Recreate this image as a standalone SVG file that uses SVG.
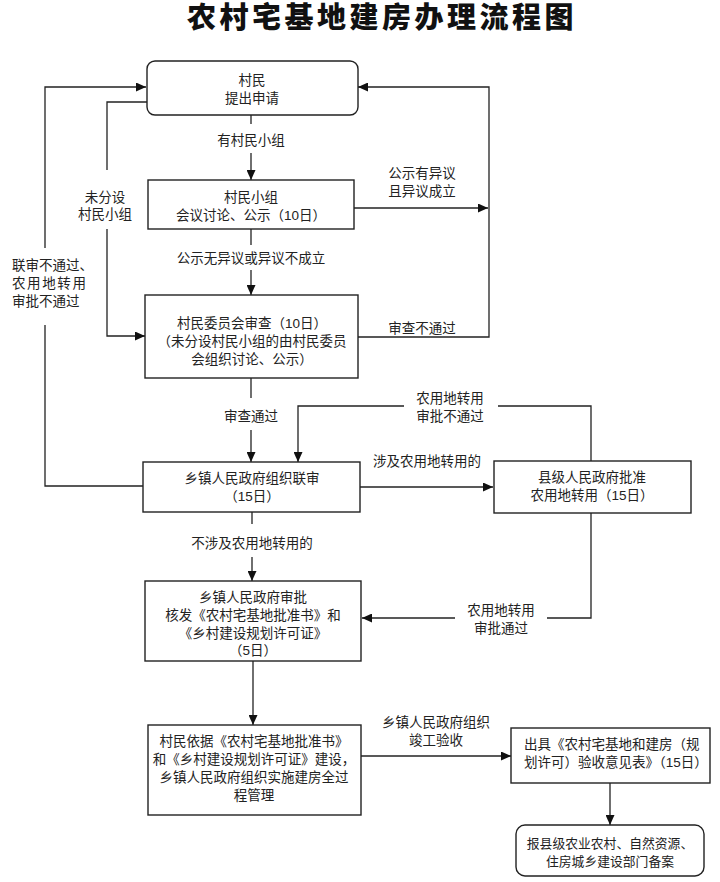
<svg xmlns="http://www.w3.org/2000/svg" width="720" height="882" viewBox="0 0 720 882">
<defs>
<marker id="arr" markerUnits="userSpaceOnUse" markerWidth="11" markerHeight="9" refX="10" refY="4.5" orient="auto">
<path d="M0,0 L10,4.5 L0,9 z" fill="#111"/>
</marker>
<style>
.bx{fill:#fff;stroke:#222;stroke-width:1.4}
.ln{fill:none;stroke:#222;stroke-width:1.3}
.t{font-family:"Liberation Sans","Noto Sans CJK SC",sans-serif;font-size:13.5px;fill:#222;text-anchor:middle}
.l{text-anchor:start}
.title{font-family:"Liberation Sans","Noto Sans CJK SC",sans-serif;font-size:29px;font-weight:900;fill:#111;text-anchor:middle;letter-spacing:3.5px}
</style>
</defs>
<rect width="720" height="882" fill="#fff"/>
<text class="title" x="382" y="28">农村宅基地建房办理流程图</text>

<g id="connectors">
<path class="ln" d="M251,115 V124"/>
<path class="ln" d="M251,153 V180" marker-end="url(#arr)"/>
<path class="ln" d="M251,229 V245"/>
<path class="ln" d="M251,270 V295" marker-end="url(#arr)"/>
<path class="ln" d="M251,378 V398"/>
<path class="ln" d="M251,430 V462" marker-end="url(#arr)"/>
<path class="ln" d="M252,512 V524"/>
<path class="ln" d="M252,557 V581" marker-end="url(#arr)"/>
<path class="ln" d="M253,661 V725" marker-end="url(#arr)"/>
<path class="ln" d="M361,756 H511" marker-end="url(#arr)"/>
<path class="ln" d="M610,783 V825" marker-end="url(#arr)"/>
<path class="ln" d="M360,487 H493" marker-end="url(#arr)"/>
<path class="ln" d="M591,461 V406 H498"/>
<path class="ln" d="M404,406 H298 V462" marker-end="url(#arr)"/>
<path class="ln" d="M591,513 V618 H547"/>
<path class="ln" d="M455,618 H362" marker-end="url(#arr)"/>
<path class="ln" d="M354,208 H488" marker-end="url(#arr)"/>
<path class="ln" d="M358,337 H489 V87 H358" marker-end="url(#arr)"/>
<path class="ln" d="M147,102 H107 V170"/>
<path class="ln" d="M107,229 V336 H145" marker-end="url(#arr)"/>
<path class="ln" d="M143,486 H45 V325"/>
<path class="ln" d="M45,248 V87 H146" marker-end="url(#arr)"/>

<text class="t" x="251" y="145">有村民小组</text>
<text class="t" x="251" y="263">公示无异议或异议不成立</text>
<text class="t" x="251" y="421">审查通过</text>
<text class="t" x="252" y="548">不涉及农用地转用的</text>
<text class="t" x="436" y="727">乡镇人民政府组织</text>
<text class="t" x="436" y="745">竣工验收</text>
<text class="t" x="427" y="466">涉及农用地转用的</text>
<text class="t" x="450" y="403">农用地转用</text>
<text class="t" x="450" y="421">审批不通过</text>
<text class="t" x="501" y="615">农用地转用</text>
<text class="t" x="501" y="633">审批通过</text>
<text class="t" x="422" y="178">公示有异议</text>
<text class="t" x="422" y="196">且异议成立</text>
<text class="t" x="422" y="333">审查不通过</text>
<text class="t" x="105" y="202">未分设</text>
<text class="t" x="105" y="219">村民小组</text>
<text class="t l" x="12" y="270">联审不通过、</text>
<text class="t l" x="12" y="288" style="letter-spacing:1.6px">农用地转用</text>
<text class="t l" x="12" y="306">审批不通过</text>
</g>

<g id="n1">
<rect class="bx" x="147" y="61" width="211" height="54" rx="8"/>
<text class="t" x="252" y="85">村民</text>
<text class="t" x="252" y="103">提出申请</text>
</g>
<g id="n2">
<rect class="bx" x="148" y="180" width="206" height="49"/>
<text class="t" x="251" y="202">村民小组</text>
<text class="t" x="251" y="220">会议讨论、公示（10日）</text>
</g>
<g id="n3">
<rect class="bx" x="145" y="295" width="213" height="83"/>
<text class="t" x="252" y="328">村民委员会审查（10日）</text>
<text class="t" x="252" y="346">（未分设村民小组的由村民委员</text>
<text class="t" x="252" y="364">会组织讨论、公示）</text>
</g>
<g id="n4">
<rect class="bx" x="143" y="462" width="217" height="50"/>
<text class="t" x="252" y="483">乡镇人民政府组织联审</text>
<text class="t" x="252" y="501">（15日）</text>
</g>
<g id="n5">
<rect class="bx" x="494" y="461" width="197" height="52"/>
<text class="t" x="592" y="482">县级人民政府批准</text>
<text class="t" x="592" y="500">农用地转用（15日）</text>
</g>
<g id="n6">
<rect class="bx" x="145" y="581" width="216" height="80"/>
<text class="t" x="253" y="602">乡镇人民政府审批</text>
<text class="t" x="253" y="620">核发《农村宅基地批准书》和</text>
<text class="t" x="253" y="638">《乡村建设规划许可证》</text>
<text class="t" x="253" y="655">（5日）</text>
</g>
<g id="n7">
<rect class="bx" x="148" y="725" width="213" height="90"/>
<text class="t" x="254" y="746">村民依据《农村宅基地批准书》</text>
<text class="t" x="254" y="764">和《乡村建设规划许可证》建设，</text>
<text class="t" x="254" y="782">乡镇人民政府组织实施建房全过</text>
<text class="t" x="254" y="800">程管理</text>
</g>
<g id="n8">
<rect class="bx" x="511" y="728" width="199" height="55"/>
<text class="t l" x="524" y="749">出具《农村宅基地和建房（规</text>
<text class="t l" x="524" y="767">划许可）验收意见表》（15日）</text>
</g>
<g id="n9">
<rect class="bx" x="516" y="825" width="188" height="51" rx="9"/>
<text class="t" x="610" y="848" style="font-size:12.8px">报县级农业农村、自然资源、</text>
<text class="t" x="610" y="866" style="font-size:12.8px">住房城乡建设部门备案</text>
</g>
</svg>
